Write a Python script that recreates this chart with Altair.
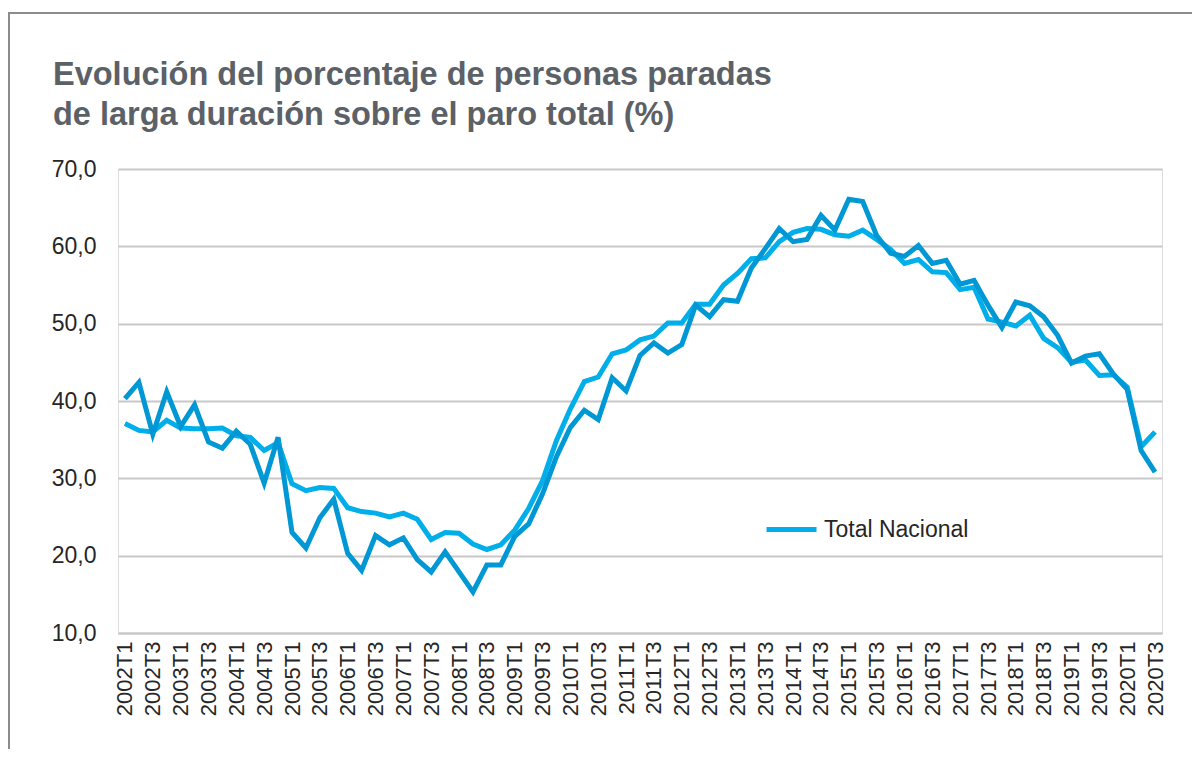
import altair as alt
import pandas as pd

quarters = [f"{y}T{q}" for y in range(2002, 2021) for q in range(1, 5)][:75]

total_nacional = [
    37.1, 36.2, 36.0, 37.5, 36.5, 36.4, 36.4, 36.5, 35.5, 35.3,
    33.6, 34.6, 29.3, 28.4, 28.8, 28.7, 26.2, 25.7, 25.5, 25.0,
    25.5, 24.7, 22.1, 23.0, 22.9, 21.5, 20.8, 21.4, 23.3, 26.1,
    29.7, 34.9, 39.0, 42.5, 43.1, 46.1, 46.6, 47.9, 48.4, 50.1,
    50.1, 52.5, 52.5, 55.0, 56.5, 58.4, 58.5, 60.6, 61.8, 62.3,
    62.2, 61.5, 61.3, 62.1, 60.9, 59.6, 57.8, 58.3, 56.7, 56.6,
    54.4, 54.7, 50.6, 50.2, 49.7, 51.1, 48.1, 46.9, 45.0, 45.3,
    43.3, 43.4, 41.8, 34.1, 36.0,
]

region = [
    40.3, 42.4, 35.7, 41.2, 36.7, 39.5, 34.7, 33.9, 36.1, 34.4,
    29.4, 35.3, 23.0, 21.0, 24.9, 27.3, 20.3, 18.1, 22.6, 21.4,
    22.3, 19.5, 17.9, 20.5, 17.9, 15.3, 18.8, 18.8, 22.5, 24.1,
    28.0, 32.8, 36.6, 38.8, 37.6, 43.0, 41.3, 45.9, 47.5, 46.2,
    47.3, 52.4, 50.9, 53.1, 52.9, 57.2, 59.7, 62.3, 60.6, 60.9,
    64.0, 62.1, 66.1, 65.8, 61.4, 59.1, 58.7, 60.1, 57.8, 58.2,
    55.1, 55.6, 52.4, 49.5, 52.8, 52.3, 50.9, 48.5, 44.9, 45.8,
    46.1, 43.5, 41.5, 33.6, 30.8,
]

tick_labels = quarters[::2]

title_lines = [
    "Evolución del porcentaje de personas paradas",
    "de larga duración sobre el paro total (%)",
]

df_total = pd.DataFrame({"trimestre": quarters, "valor": total_nacional, "serie": "Total Nacional"})
df_region = pd.DataFrame({"trimestre": quarters, "valor": region, "serie": "Región"})

FONT = "Liberation Sans"

x_enc = alt.X(
    "trimestre:O",
    sort=quarters,
    title=None,
    axis=alt.Axis(
        values=tick_labels,
        labelAngle=-90,
        labelFontSize=22,
        labelColor="#262626",
        labelFont=FONT,
        labelPadding=8,
        ticks=False,
        domain=True,
        domainColor="#c8c8c8",
        domainWidth=2,
        grid=False,
        labelOverlap=False,
    ),
)
y_enc = alt.Y(
    "valor:Q",
    title=None,
    scale=alt.Scale(domain=[10, 70], nice=False, zero=False),
    axis=alt.Axis(
        values=[10, 20, 30, 40, 50, 60, 70],
        labelExpr="replace(format(datum.value, '.1f'), '.', ',')",
        labelFontSize=23,
        labelColor="#262626",
        labelFont=FONT,
        labelPadding=22,
        ticks=False,
        domain=False,
        grid=True,
        gridColor="#c8c8c8",
        gridWidth=2,
    ),
)

light = alt.Chart(df_total).mark_line(strokeWidth=5, strokeJoin="miter").encode(
    x=x_enc,
    y=y_enc,
    color=alt.Color(
        "serie:N",
        scale=alt.Scale(domain=["Total Nacional"], range=["#00AEEA"]),
        legend=alt.Legend(
            title=None,
            orient="none",
            legendX=646,
            legendY=333,
            symbolType="stroke",
            symbolSize=2500,
            symbolStrokeWidth=5,
            labelFontSize=23,
            labelFont=FONT,
            labelColor="#262626",
            labelOffset=5,
        ),
    ),
)

dark = alt.Chart(df_region).mark_line(strokeWidth=5, strokeJoin="miter", color="#0098D4").encode(
    x=alt.X("trimestre:O", sort=quarters),
    y=alt.Y("valor:Q"),
)

one = alt.Data(values=[{"a": 1}])

frame = alt.Chart(one).mark_rect(
    fill=None, stroke="#8c8c8c", strokeWidth=2
).encode(
    x=alt.value(-109), x2=alt.value(1120), y=alt.value(-156), y2=alt.value(720)
)

title1 = alt.Chart(one).mark_text(
    align="left", baseline="alphabetic", font=FONT, fontSize=32.5, fontWeight="bold", color="#5b6166"
).encode(x=alt.value(-65), y=alt.value(-84), text=alt.value(title_lines[0]))

title2 = alt.Chart(one).mark_text(
    align="left", baseline="alphabetic", font=FONT, fontSize=32.5, fontWeight="bold", color="#5b6166"
).encode(x=alt.value(-65), y=alt.value(-44), text=alt.value(title_lines[1]))

chart = alt.layer(frame, title1, title2, light, dark).properties(
    width=1044,
    height=464,
    padding={"left": 110, "top": 161, "right": 30, "bottom": 116},
    autosize=alt.AutoSizeParams(type="none"),
).configure_view(stroke=None).configure(background="white")

chart.save("out.html", embed_options={"renderer": "svg", "actions": False})
